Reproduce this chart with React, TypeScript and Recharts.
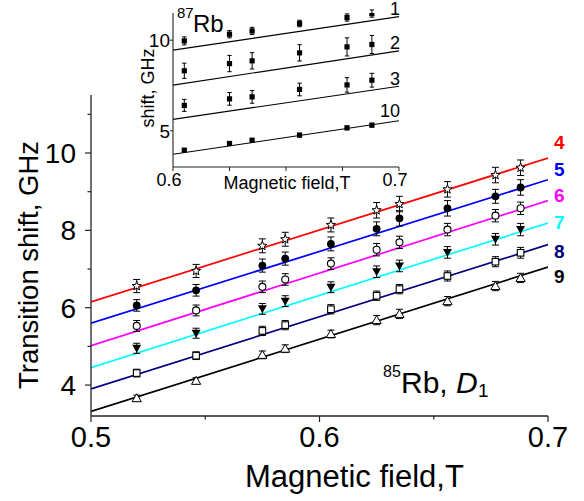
import React from "react";
import { ComposedChart, Line, Scatter, ErrorBar, XAxis, YAxis } from "recharts";

// main panel, 85Rb D1: transition shift vs field
const fieldT = [0.52, 0.546, 0.575, 0.585, 0.605, 0.625, 0.635, 0.656, 0.677, 0.688];
const shift4 = [6.56, 6.95, 7.6, 7.77, 8.14, 8.52, 8.68, 9.06, 9.43, 9.62];
const shift5 = [6.06, 6.45, 7.09, 7.27, 7.65, 8.04, 8.31, 8.57, 8.88, 9.11];
const shift6 = [5.53, 5.93, 6.54, 6.73, 7.14, 7.5, 7.69, 8.02, 8.38, 8.57];
const shift7 = [4.95, 5.34, 5.97, 6.17, 6.53, 6.93, 7.08, 7.43, 7.77, 8.02];
const shift8 = [4.31, 4.76, 5.4, 5.55, 5.96, 6.31, 6.48, 6.82, 7.19, 7.42];
const shift9 = [3.66, 4.11, 4.78, 4.94, 5.32, 5.68, 5.84, 6.17, 6.56, 6.77];
const err4 = [0.17, 0.17, 0.18, 0.18, 0.18, 0.2, 0.2, 0.2, 0.2, 0.2];
const err5 = [0.15, 0.15, 0.17, 0.17, 0.18, 0.18, 0.2, 0.2, 0.18, 0.2];
const err6 = [0.14, 0.14, 0.15, 0.15, 0.15, 0.16, 0.16, 0.16, 0.16, 0.16];
const err7 = [0.13, 0.13, 0.14, 0.14, 0.14, 0.15, 0.15, 0.15, 0.15, 0.16];
const err8 = [0.1, 0.1, 0.12, 0.12, 0.12, 0.12, 0.12, 0.13, 0.13, 0.14];
const err9 = [0.08, 0.08, 0.1, 0.1, 0.1, 0.12, 0.12, 0.12, 0.12, 0.12];
const fitField = [0.5, 0.7];
const fit4 = [6.15, 9.87];
const fit5 = [5.6, 9.31];
const fit6 = [5.02, 8.77];
const fit7 = [4.45, 8.19];
const fit8 = [3.9, 7.63];
const fit9 = [3.32, 7.05];
const mainTicksX = [0.5, 0.55, 0.6, 0.65, 0.7];
const mainTicksY = [4, 5, 6, 7, 8, 9, 10, 11];

// inset, 87Rb
const insetField = [0.605, 0.625, 0.635, 0.656, 0.677, 0.688];
const rb1 = [9.96, 10.33, 10.51, 10.92, 11.25, 11.47];
const rb2 = [8.31, 8.71, 8.86, 9.3, 9.63, 9.76];
const rb3 = [6.4, 6.76, 6.87, 7.28, 7.53, 7.79];
const rb10 = [3.93, 4.3, 4.48, 4.76, 5.16, 5.31];
const errRb1 = [0.22, 0.2, 0.2, 0.18, 0.2, 0.2];
const errRb2 = [0.42, 0.45, 0.45, 0.45, 0.5, 0.5];
const errRb3 = [0.33, 0.35, 0.35, 0.35, 0.4, 0.38];
const errRb10 = [0.08, 0.1, 0.08, 0.1, 0.1, 0.1];
const insetFitField = [0.6, 0.7];
const fitRb1 = [9.45, 11.3];
const fitRb2 = [7.52, 9.41];
const fitRb3 = [5.63, 7.46];
const fitRb10 = [3.7, 5.55];
const insetTicksX = [0.6, 0.625, 0.65, 0.675, 0.7];
const insetTicksY = [5, 10];

const FONT = '"Liberation Sans", Arial, sans-serif';
const AXIS = "#222";

const toPoints = (xs: number[], ys: number[], errs?: number[]) =>
  xs.map((x, i) => ({ x, y: ys[i], err: errs ? errs[i] : 0 }));

const mainSeries = [
  { name: "4", color: "#ff0000", values: shift4, err: err4, fit: fit4, marker: "star", labelDy: -16 },
  { name: "5", color: "#0000ff", values: shift5, err: err5, fit: fit5, marker: "dot", labelDy: -11 },
  { name: "6", color: "#ff00ff", values: shift6, err: err6, fit: fit6, marker: "circle", labelDy: -5 },
  { name: "7", color: "#00ffff", values: shift7, err: err7, fit: fit7, marker: "down", labelDy: -1 },
  { name: "8", color: "#000080", values: shift8, err: err8, fit: fit8, marker: "square", labelDy: 6 },
  { name: "9", color: "#000000", values: shift9, err: err9, fit: fit9, marker: "up", labelDy: 9 },
];

const insetSeries = [
  { name: "1", values: rb1, err: errRb1, fit: fitRb1, labelDy: -8 },
  { name: "2", values: rb2, err: errRb2, fit: fitRb2, labelDy: -8 },
  { name: "3", values: rb3, err: errRb3, fit: fitRb3, labelDy: -8 },
  { name: "10", values: rb10, err: errRb10, fit: fitRb10, labelDy: -10 },
];

function starPath(cx: number, cy: number, ro: number, ri: number) {
  let d = "";
  for (let i = 0; i < 10; i++) {
    const r = i % 2 === 0 ? ro : ri;
    const a = -Math.PI / 2 + (i * Math.PI) / 5;
    d += (i === 0 ? "M" : "L") + (cx + r * Math.cos(a)).toFixed(2) + "," + (cy + r * Math.sin(a)).toFixed(2);
  }
  return d + "Z";
}

function Marker(props: any) {
  const { cx, cy, kind } = props;
  if (cx == null || cy == null) return null;
  switch (kind) {
    case "star":
      return <path d={starPath(cx, cy, 4.8, 2)} fill="#fff" stroke="#000" strokeWidth={1} />;
    case "dot":
      return <circle cx={cx} cy={cy} r={3.9} fill="#000" />;
    case "circle":
      return <circle cx={cx} cy={cy} r={3.5} fill="#fff" stroke="#000" strokeWidth={1.1} />;
    case "down":
      return <path d={`M${cx - 4.5},${cy - 3.5}L${cx + 4.5},${cy - 3.5}L${cx},${cy + 4.5}Z`} fill="#000" />;
    case "square":
      return <rect x={cx - 3.3} y={cy - 3.3} width={6.6} height={6.6} fill="#fff" stroke="#000" strokeWidth={1.1} />;
    case "up":
      return <path d={`M${cx},${cy - 4.5}L${cx + 4.6},${cy + 3.5}L${cx - 4.6},${cy + 3.5}Z`} fill="#fff" stroke="#000" strokeWidth={1} />;
    default:
      return <rect x={cx - 2.6} y={cy - 2.6} width={5.2} height={5.2} fill="#000" />;
  }
}

function MainXTick({ x, y, payload }: any) {
  const v = payload.value;
  const major = Math.abs(v * 10 - Math.round(v * 10)) < 1e-6;
  return (
    <g>
      <line x1={x} x2={x} y1={y} y2={y + (major ? 6 : 3.5)} stroke={AXIS} strokeWidth={1.2} />
      {major && (
        <text x={x} y={y + 31} textAnchor="middle" fontSize={29} fill="#000">
          {v.toFixed(1)}
        </text>
      )}
    </g>
  );
}

function MainYTick({ x, y, payload }: any) {
  const v = payload.value;
  const major = v % 2 === 0;
  return (
    <g>
      <line x1={x} x2={x - (major ? 6 : 3.5)} y1={y} y2={y} stroke={AXIS} strokeWidth={1.2} />
      {major && (
        <text x={x - 15} y={y} dy="0.36em" textAnchor="end" fontSize={28} fill="#000">
          {v}
        </text>
      )}
    </g>
  );
}

function InsetXTick({ x, y, payload }: any) {
  const v = payload.value;
  const labelled = v === 0.6 || v === 0.7;
  return (
    <g>
      <line x1={x} x2={x} y1={y} y2={y + 4} stroke={AXIS} strokeWidth={1} />
      {labelled && (
        <text x={x - 4} y={y + 19} textAnchor="middle" fontSize={18} fill="#000">
          {v.toFixed(1)}
        </text>
      )}
    </g>
  );
}

function InsetYTick({ x, y, payload }: any) {
  return (
    <g>
      <line x1={x} x2={x - 3} y1={y} y2={y} stroke={AXIS} strokeWidth={1} />
      <text x={x - 3} y={y} dy="0.36em" textAnchor="end" fontSize={19} fill="#000">
        {payload.value}
      </text>
    </g>
  );
}

function endLabel(text: string, color: string, dx: number, dy: number, size: number, bold: boolean, anchor: string) {
  return (p: any) => {
    if (p.index !== 1) return null;
    return (
      <text
        key={`lbl-${text}`}
        x={p.x + dx}
        y={p.y + dy}
        dy="0.36em"
        textAnchor={anchor}
        fontSize={size}
        fontWeight={bold ? "bold" : "normal"}
        fill={color}
      >
        {text}
      </text>
    );
  };
}

function MainChart() {
  return (
    <ComposedChart width={584} height={501} margin={{ top: 95, right: 36, bottom: 0, left: 0 }}>
      <XAxis
        type="number"
        dataKey="x"
        domain={[0.5, 0.7]}
        ticks={mainTicksX}
        interval={0}
        allowDataOverflow
        height={85}
        stroke={AXIS}
        axisLine={{ stroke: AXIS, strokeWidth: 1.3 }}
        tickLine={false}
        tickSize={0}
        tickMargin={0}
        tick={<MainXTick />}
      />
      <YAxis
        type="number"
        dataKey="y"
        domain={[3.2, 11.5]}
        ticks={mainTicksY}
        interval={0}
        allowDataOverflow
        width={91}
        stroke={AXIS}
        axisLine={{ stroke: AXIS, strokeWidth: 1.3 }}
        tickLine={false}
        tickSize={0}
        tickMargin={0}
        tick={<MainYTick />}
      />
      {mainSeries.map((s) => (
        <Line
          key={`fit-${s.name}`}
          data={toPoints(fitField, s.fit)}
          dataKey="y"
          type="linear"
          stroke={s.color}
          strokeWidth={1.7}
          dot={false}
          activeDot={false}
          isAnimationActive={false}
          label={endLabel(s.name, s.color, 6, s.labelDy, 19, true, "start")}
        />
      ))}
      {mainSeries.map((s) => (
        <Scatter
          key={`pts-${s.name}`}
          data={toPoints(fieldT, s.values, s.err)}
          dataKey="y"
          isAnimationActive={false}
          shape={(p: any) => <Marker {...p} kind={s.marker} />}
        >
          <ErrorBar dataKey="err" direction="y" width={3.5} stroke="#000" strokeWidth={1} />
        </Scatter>
      ))}
    </ComposedChart>
  );
}

function InsetChart() {
  return (
    <ComposedChart width={320} height={200} margin={{ top: 13, right: 21, bottom: 0, left: 0 }}>
      <XAxis
        type="number"
        dataKey="x"
        domain={[0.6, 0.7]}
        ticks={insetTicksX}
        interval={0}
        allowDataOverflow
        height={33}
        axisLine={{ stroke: AXIS, strokeWidth: 1.1 }}
        tickLine={false}
        tickSize={0}
        tickMargin={0}
        tick={<InsetXTick />}
      />
      <YAxis
        type="number"
        dataKey="y"
        domain={[3, 11.5]}
        ticks={insetTicksY}
        interval={0}
        allowDataOverflow
        width={73}
        axisLine={{ stroke: AXIS, strokeWidth: 1.1 }}
        tickLine={false}
        tickSize={0}
        tickMargin={0}
        tick={<InsetYTick />}
      />
      {insetSeries.map((s) => (
        <Line
          key={`ifit-${s.name}`}
          data={toPoints(insetFitField, s.fit)}
          dataKey="y"
          type="linear"
          stroke="#000"
          strokeWidth={1.1}
          dot={false}
          activeDot={false}
          isAnimationActive={false}
          label={endLabel(s.name, "#000", 1, s.labelDy, 18, false, "end")}
        />
      ))}
      {insetSeries.map((s) => (
        <Scatter
          key={`ipts-${s.name}`}
          data={toPoints(insetField, s.values, s.err)}
          dataKey="y"
          isAnimationActive={false}
          shape={(p: any) => <Marker {...p} kind="fsquare" />}
        >
          <ErrorBar dataKey="err" direction="y" width={2.2} stroke="#000" strokeWidth={1} />
        </Scatter>
      ))}
    </ComposedChart>
  );
}

export default function App() {
  return (
    <div
      style={{
        position: "absolute",
        left: 0,
        top: 0,
        width: 584,
        height: 501,
        background: "#fff",
        fontFamily: FONT,
        overflow: "hidden",
      }}
    >
      <div style={{ position: "absolute", left: 0, top: 0 }}>
        <MainChart />
      </div>
      <div style={{ position: "absolute", left: 100, top: 0 }}>
        <InsetChart />
      </div>
      <svg
        width={584}
        height={501}
        style={{ position: "absolute", left: 0, top: 0, pointerEvents: "none", fontFamily: FONT }}
      >
        <text x={38} y={265} transform="rotate(-90 38 265)" textAnchor="middle" fontSize={27.5} fill="#000">
          Transition shift, GHz
        </text>
        <text x={245} y={487} fontSize={31} fill="#000">
          Magnetic field,T
        </text>
        <text fill="#000">
          <tspan x={383} y={377} fontSize={16}>85</tspan>
          <tspan x={401} y={393} fontSize={30}>Rb,</tspan>
          <tspan x={456} y={393} fontSize={30} fontStyle="italic">D</tspan>
          <tspan x={478} y={397} fontSize={19}>1</tspan>
        </text>
        <text x={154} y={88} transform="rotate(-90 154 88)" textAnchor="middle" fontSize={18} fill="#000">
          shift, GHz
        </text>
        <text x={287} y={189} textAnchor="middle" fontSize={18} fill="#000">
          Magnetic field,T
        </text>
        <text fill="#000">
          <tspan x={177} y={18} fontSize={15}>87</tspan>
          <tspan x={193} y={32} fontSize={24}>Rb</tspan>
        </text>
      </svg>
    </div>
  );
}
